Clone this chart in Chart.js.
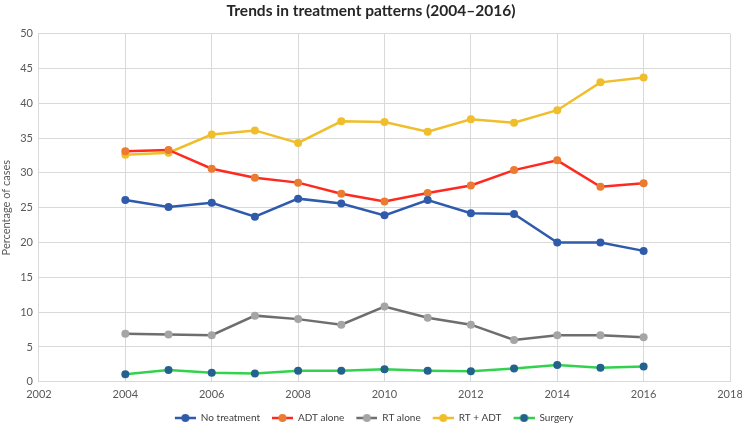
<!DOCTYPE html>
<html>
<head>
<meta charset="utf-8">
<script src="https://cdn.jsdelivr.net/npm/chart.js@4/dist/chart.umd.min.js"></script>
<style>
html,body{margin:0;padding:0;background:#fff;}
#wrap{width:742px;height:424px;position:relative;}
</style>
</head>
<body>
<div id="wrap"><canvas id="c"></canvas></div>
<script>
const years = [2004,2005,2006,2007,2008,2009,2010,2011,2012,2013,2014,2015,2016];
const noTreatment = [26.1,25.1,25.7,23.7,26.3,25.6,23.9,26.1,24.2,24.1,20.0,20.0,18.8];
const adtAlone   = [33.1,33.3,30.6,29.3,28.6,27.0,25.9,27.1,28.2,30.4,31.8,28.0,28.5];
const rtAlone    = [6.9,6.8,6.7,9.5,9.0,8.2,10.8,9.2,8.2,6.0,6.7,6.7,6.4];
const rtAdt      = [32.6,32.9,35.5,36.1,34.3,37.4,37.3,35.9,37.7,37.2,39.0,43.0,43.7];
const surgery    = [1.1,1.7,1.3,1.2,1.6,1.6,1.8,1.6,1.5,1.9,2.4,2.0,2.2];
const seriesNames = ['No treatment','ADT alone','RT alone','RT + ADT','Surgery'];
const xTicks = [2002,2004,2006,2008,2010,2012,2014,2016,2018];
const yTicks = [0,5,10,15,20,25,30,35,40,45,50];

const styles = [
  {line:'#2F5BAA', point:'#2F5BAA'},
  {line:'#FF2A1F', point:'#EC7B32'},
  {line:'#6E6E6E', point:'#A5A5A5'},
  {line:'#F0BE2A', point:'#F0BE2A'},
  {line:'#33D24E', point:'#24628E'}
];
const seriesData = [noTreatment, adtAlone, rtAlone, rtAdt, surgery];

const ICON_GAP = 6, ICON_LINE = 21;
function legendIcon(s){
  const c = document.createElement('canvas');
  c.width = ICON_GAP + ICON_LINE; c.height = 12;
  const g = c.getContext('2d');
  g.strokeStyle = s.line; g.lineWidth = 2.5;
  g.beginPath(); g.moveTo(ICON_GAP,6); g.lineTo(ICON_GAP+ICON_LINE,6); g.stroke();
  g.fillStyle = s.point;
  g.beginPath(); g.arc(ICON_GAP+ICON_LINE/2,6,4,0,Math.PI*2); g.fill();
  return c;
}
const icons = styles.map(legendIcon);

const datasets = seriesNames.map((name,i)=>({
  label: name,
  data: years.map((y,j)=>({x:y, y:seriesData[i][j]})),
  borderColor: styles[i].line,
  backgroundColor: styles[i].point,
  pointBackgroundColor: styles[i].point,
  pointBorderColor: styles[i].point,
  pointRadius: 4,
  pointBorderWidth: 0,
  borderWidth: 2.5,
  tension: 0,
  fill: false
}));

const FONT = 'Lato, "Open Sans", sans-serif';
const tickFont = {family:FONT, size:11};
new Chart(document.getElementById('c'), {
  type:'line',
  data:{datasets},
  options:{
    responsive:true, maintainAspectRatio:false, animation:false,
    layout:{padding:{left:0,right:0,top:2,bottom:-9}},
    plugins:{
      title:{display:true, text:'Trends in treatment patterns (2004\u20132016)', color:'#262626',
        font:{family:FONT, size:15.5, weight:'bold'}, padding:{top:0,bottom:13}},
      legend:{position:'bottom',
        labels:{color:'#404040', font:{family:FONT, size:10}, usePointStyle:true, pointStyleWidth:ICON_GAP+ICON_LINE, boxHeight:11, padding:6,
          generateLabels:(chart)=>chart.data.datasets.map((d,i)=>({
            text:d.label, pointStyle:icons[i], fillStyle:d.backgroundColor, strokeStyle:d.borderColor,
            lineWidth:0, hidden:false, datasetIndex:i, fontColor:'#404040'}))
        }},
      tooltip:{enabled:false}
    },
    scales:{
      x:{type:'linear', min:2002, max:2018,
        afterBuildTicks:(ax)=>{ax.ticks = xTicks.map(v=>({value:v}));},
        afterFit:(ax)=>{ax.paddingRight = 12;},
        ticks:{color:'#595959', font:tickFont, callback:(v)=>String(v), maxRotation:0, padding:6},
        grid:{color:'#D9D9D9', lineWidth:1, drawTicks:false},
        border:{color:'#D9D9D9'}
      },
      y:{min:0, max:50,
        afterBuildTicks:(ax)=>{ax.ticks = yTicks.map(v=>({value:v}));},
        ticks:{color:'#595959', font:tickFont, padding:6},
        grid:{color:'#D9D9D9', lineWidth:1, drawTicks:false},
        border:{color:'#D9D9D9'},
        title:{display:true, text:'Percentage of cases', color:'#595959', font:tickFont, padding:{top:0,bottom:1}}
      }
    }
  }
});
</script>
</body>
</html>
